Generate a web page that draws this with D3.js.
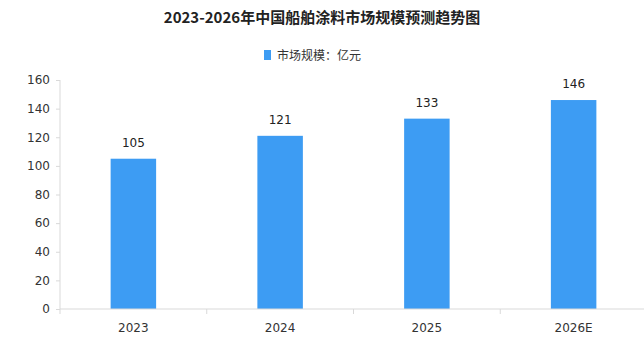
<!DOCTYPE html>
<html>
<head>
<meta charset="utf-8">
<script src="https://cdn.jsdelivr.net/npm/d3@7"></script>
<style>
  body { margin: 0; background: #fff; overflow: hidden; }
  text { font-family: "Noto Sans CJK SC", "DejaVu Sans", sans-serif; }
</style>
</head>
<body>
<div id="chart"></div>
<script>
// chart data
var years = ["2023", "2024", "2025", "2026E"];
var marketSize = [105, 121, 133, 146];
var yTicks = [0, 20, 40, 60, 80, 100, 120, 140, 160];

var width = 644, height = 345;
// plot area runs a little past the right edge, as in the source image
var margin = {top: 80, right: -3, bottom: 36, left: 60};

var svg = d3.select("#chart").append("svg")
    .attr("width", width)
    .attr("height", height);

var x = d3.scaleBand()
    .domain(years)
    .range([margin.left, width - margin.right])
    .paddingInner(0.69)
    .paddingOuter(0.345);

var y = d3.scaleLinear()
    .domain([0, 160])
    .range([height - margin.bottom, margin.top]);

// title
svg.append("text")
    .attr("x", width / 2)
    .attr("y", 23)
    .attr("text-anchor", "middle")
    .style("font-size", "15px")
    .style("font-weight", "bold")
    .style("fill", "#222")
    .text("2023-2026年中国船舶涂料市场规模预测趋势图");

// legend
var legend = svg.append("g").attr("transform", "translate(264,50)");
legend.append("rect")
    .attr("width", 7).attr("height", 10)
    .attr("fill", "#3d9cf3");
legend.append("text")
    .attr("x", 13).attr("y", 10)
    .style("font-size", "12px")
    .style("fill", "#333")
    .text("市场规模：亿元");

// y axis
var yAxis = d3.axisLeft(y).tickValues(yTicks).tickSize(4).tickPadding(6);
var gy = svg.append("g")
    .attr("transform", "translate(" + margin.left + ",0)")
    .call(yAxis);
gy.select(".domain").remove();
gy.append("line")
    .attr("x1", 0).attr("x2", 0)
    .attr("y1", y(160)).attr("y2", y(0) + 5)
    .attr("stroke", "#d9d9d9");
gy.selectAll(".tick line").attr("stroke", "#d9d9d9");
gy.selectAll("text")
    .style("font-size", "12px")
    .style("fill", "#333")
    .style("font-family", "'DejaVu Sans', sans-serif");

// bars
svg.selectAll(".bar")
    .data(marketSize)
    .enter().append("rect")
    .attr("class", "bar")
    .attr("x", function(d, i) { return x(years[i]); })
    .attr("width", x.bandwidth())
    .attr("y", function(d) { return y(d); })
    .attr("height", function(d) { return y(0) - y(d); })
    .attr("fill", "#3d9cf3");

// value labels
svg.selectAll(".val")
    .data(marketSize)
    .enter().append("text")
    .attr("class", "val")
    .attr("x", function(d, i) { return x(years[i]) + x.bandwidth() / 2; })
    .attr("y", function(d) { return y(d) - 12; })
    .attr("text-anchor", "middle")
    .style("font-size", "12px")
    .style("fill", "#222")
    .style("font-family", "'DejaVu Sans', sans-serif")
    .text(function(d) { return d; });

// x axis
var gx = svg.append("g")
    .attr("transform", "translate(0," + y(0) + ")");
gx.append("line")
    .attr("x1", margin.left).attr("x2", width)
    .attr("stroke", "#d9d9d9");
var step = x.step();
var boundaries = years.slice(1).map(function(d) { return x(d) - step * x.paddingInner() / 2; });
gx.selectAll(".sep")
    .data(boundaries)
    .enter().append("line")
    .attr("x1", function(d) { return d; })
    .attr("x2", function(d) { return d; })
    .attr("y1", 0).attr("y2", 5)
    .attr("stroke", "#d9d9d9");
gx.selectAll(".xl")
    .data(years)
    .enter().append("text")
    .attr("x", function(d) { return x(d) + x.bandwidth() / 2; })
    .attr("y", 23)
    .attr("text-anchor", "middle")
    .style("font-size", "12px")
    .style("fill", "#333")
    .style("font-family", "'DejaVu Sans', sans-serif")
    .text(function(d) { return d; });
</script>
</body>
</html>
